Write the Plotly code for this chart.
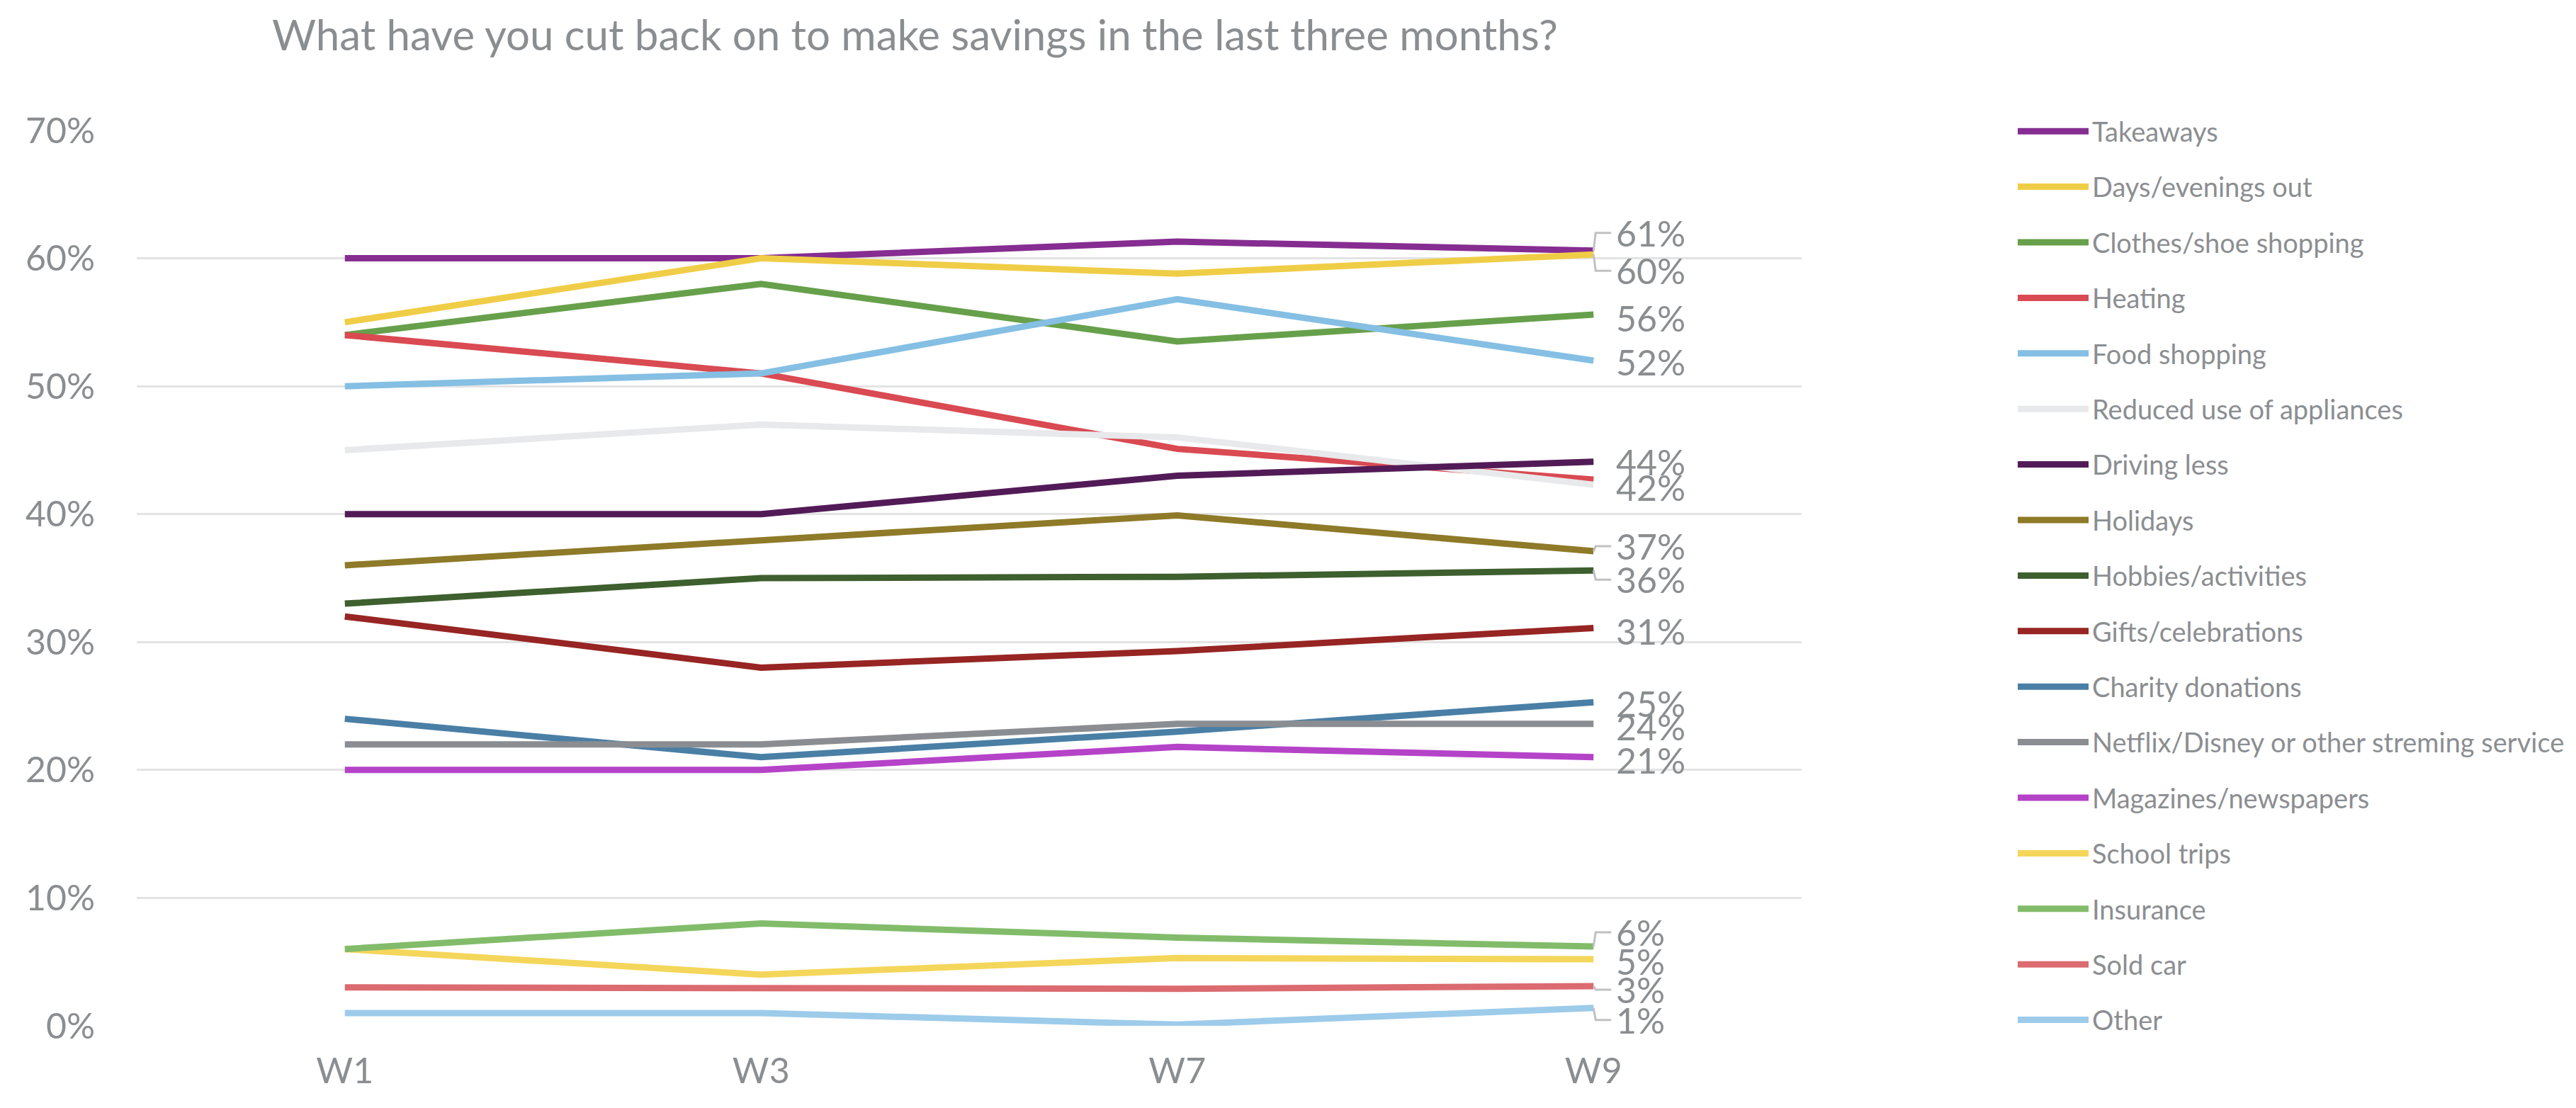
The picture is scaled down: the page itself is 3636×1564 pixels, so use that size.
import plotly.graph_objects as go

waves = ["W1", "W3", "W7", "W9"]

series_names = [
    "Takeaways", "Days/evenings out", "Clothes/shoe shopping", "Heating",
    "Food shopping", "Reduced use of appliances", "Driving less", "Holidays",
    "Hobbies/activities", "Gifts/celebrations", "Charity donations",
    "Netflix/Disney or other streming service", "Magazines/newspapers",
    "School trips", "Insurance", "Sold car", "Other",
]

takeaways = [60, 60, 61.3, 60.6]
days_out = [55, 60, 58.8, 60.3]
clothes = [54, 58, 53.5, 55.6]
heating = [54, 51, 45.1, 42.7]
food = [50, 51, 56.8, 52.0]
appliances = [45, 47, 46.0, 42.3]
driving = [40, 40, 43.0, 44.1]
holidays = [36, 38, 39.9, 37.1]
hobbies = [33, 35, 35.1, 35.6]
gifts = [32, 28, 29.3, 31.1]
charity = [24, 21, 23.0, 25.3]
netflix = [22, 22, 23.6, 23.6]
magazines = [20, 20, 21.8, 21.0]
school_trips = [6, 4, 5.3, 5.2]
insurance = [6, 8, 6.9, 6.2]
sold_car = [3, 3, 2.9, 3.1]
other = [1, 1, 0.1, 1.4]

series_values = [
    takeaways, days_out, clothes, heating, food, appliances, driving, holidays,
    hobbies, gifts, charity, netflix, magazines, school_trips, insurance,
    sold_car, other,
]

colors = [
    "#862D91", "#F0CD47", "#67A04B", "#D94A52", "#85BFE3", "#E8E9EB",
    "#521B57", "#8E7A28", "#3E5F2E", "#962523", "#4A7FA5", "#8A8D91",
    "#B543C8", "#F4D65A", "#82BC6A", "#DB6B70", "#9DCBEA",
]

# which series get an end label, their pixel offset, and whether a leader line is drawn
label_shift = {
    "Takeaways": 25, "Days/evenings out": -23, "Clothes/shoe shopping": -5,
    "Food shopping": -2, "Driving less": 0, "Reduced use of appliances": -4,
    "Holidays": 7, "Hobbies/activities": -13, "Gifts/celebrations": -5,
    "Charity donations": -2, "Netflix/Disney or other streming service": -4,
    "Magazines/newspapers": -4, "Insurance": 20, "School trips": -3,
    "Sold car": -5, "Other": -17,
}
leader = {"Takeaways", "Days/evenings out", "Holidays", "Hobbies/activities",
          "Insurance", "Sold car", "Other"}

GRAY = "#8B8E91"
FONT = "Lato"

fig = go.Figure()
for name, vals, col in zip(series_names, series_values, colors):
    fig.add_trace(go.Scatter(
        x=waves, y=vals, name=name, mode="lines",
        line=dict(color=col, width=9),
        legendgroup=name,
        hovertemplate="%{y:.0f}%<extra>" + name + "</extra>",
    ))

annotations = []
shapes = []
for name, vals in zip(series_names, series_values):
    if name not in label_shift:
        continue
    end = vals[-1]
    sh = label_shift[name]
    annotations.append(dict(
        x=len(waves) - 1, y=end, xref="x", yref="y",
        text=f"{round(end):.0f}%", showarrow=False,
        xanchor="left", yanchor="middle", xshift=30, yshift=sh,
        font=dict(family=FONT, size=50, color=GRAY),
    ))
    if name in leader:
        shapes.append(dict(
            type="path", xref="x", yref="y",
            xsizemode="pixel", ysizemode="pixel",
            xanchor=len(waves) - 1, yanchor=end,
            path=f"M0,0 L3,{sh} L25,{sh}",
            line=dict(color="#BFC1C3", width=3),
        ))

fig.update_layout(
    width=3636, height=1564,
    margin=dict(l=185, r=1101, t=176, b=124),
    paper_bgcolor="white", plot_bgcolor="white",
    title=dict(
        text="What have you cut back on to make savings in the last three months?",
        x=376 / 3636, xanchor="left", xref="container",
        y=1 - 42 / 1564, yanchor="middle", yref="container",
        font=dict(family=FONT, size=60, color=GRAY),
    ),
    xaxis=dict(
        range=[-0.5, len(waves) - 0.5],
        showgrid=False, showline=False, zeroline=False,
        tickfont=dict(family=FONT, size=50, color=GRAY),
        ticks="", ticklabelstandoff=30,
    ),
    yaxis=dict(
        range=[0, 70], dtick=10, ticksuffix="%",
        showgrid=True, gridcolor="#E3E3E3", gridwidth=3,
        zeroline=False, showline=False,
        tickfont=dict(family=FONT, size=50, color=GRAY),
        ticks="", ticklabelstandoff=58,
    ),
    legend=dict(
        x=2835 / 3636, xref="container", xanchor="left",
        y=1 - 146 / 1564, yref="container", yanchor="top",
        font=dict(family=FONT, size=38, color=GRAY),
        itemwidth=100, tracegroupgap=26,
        maxheight=1500,
        bgcolor="rgba(0,0,0,0)",
    ),
    annotations=annotations,
    shapes=shapes,
    showlegend=True,
)

fig.write_html("out.html")
